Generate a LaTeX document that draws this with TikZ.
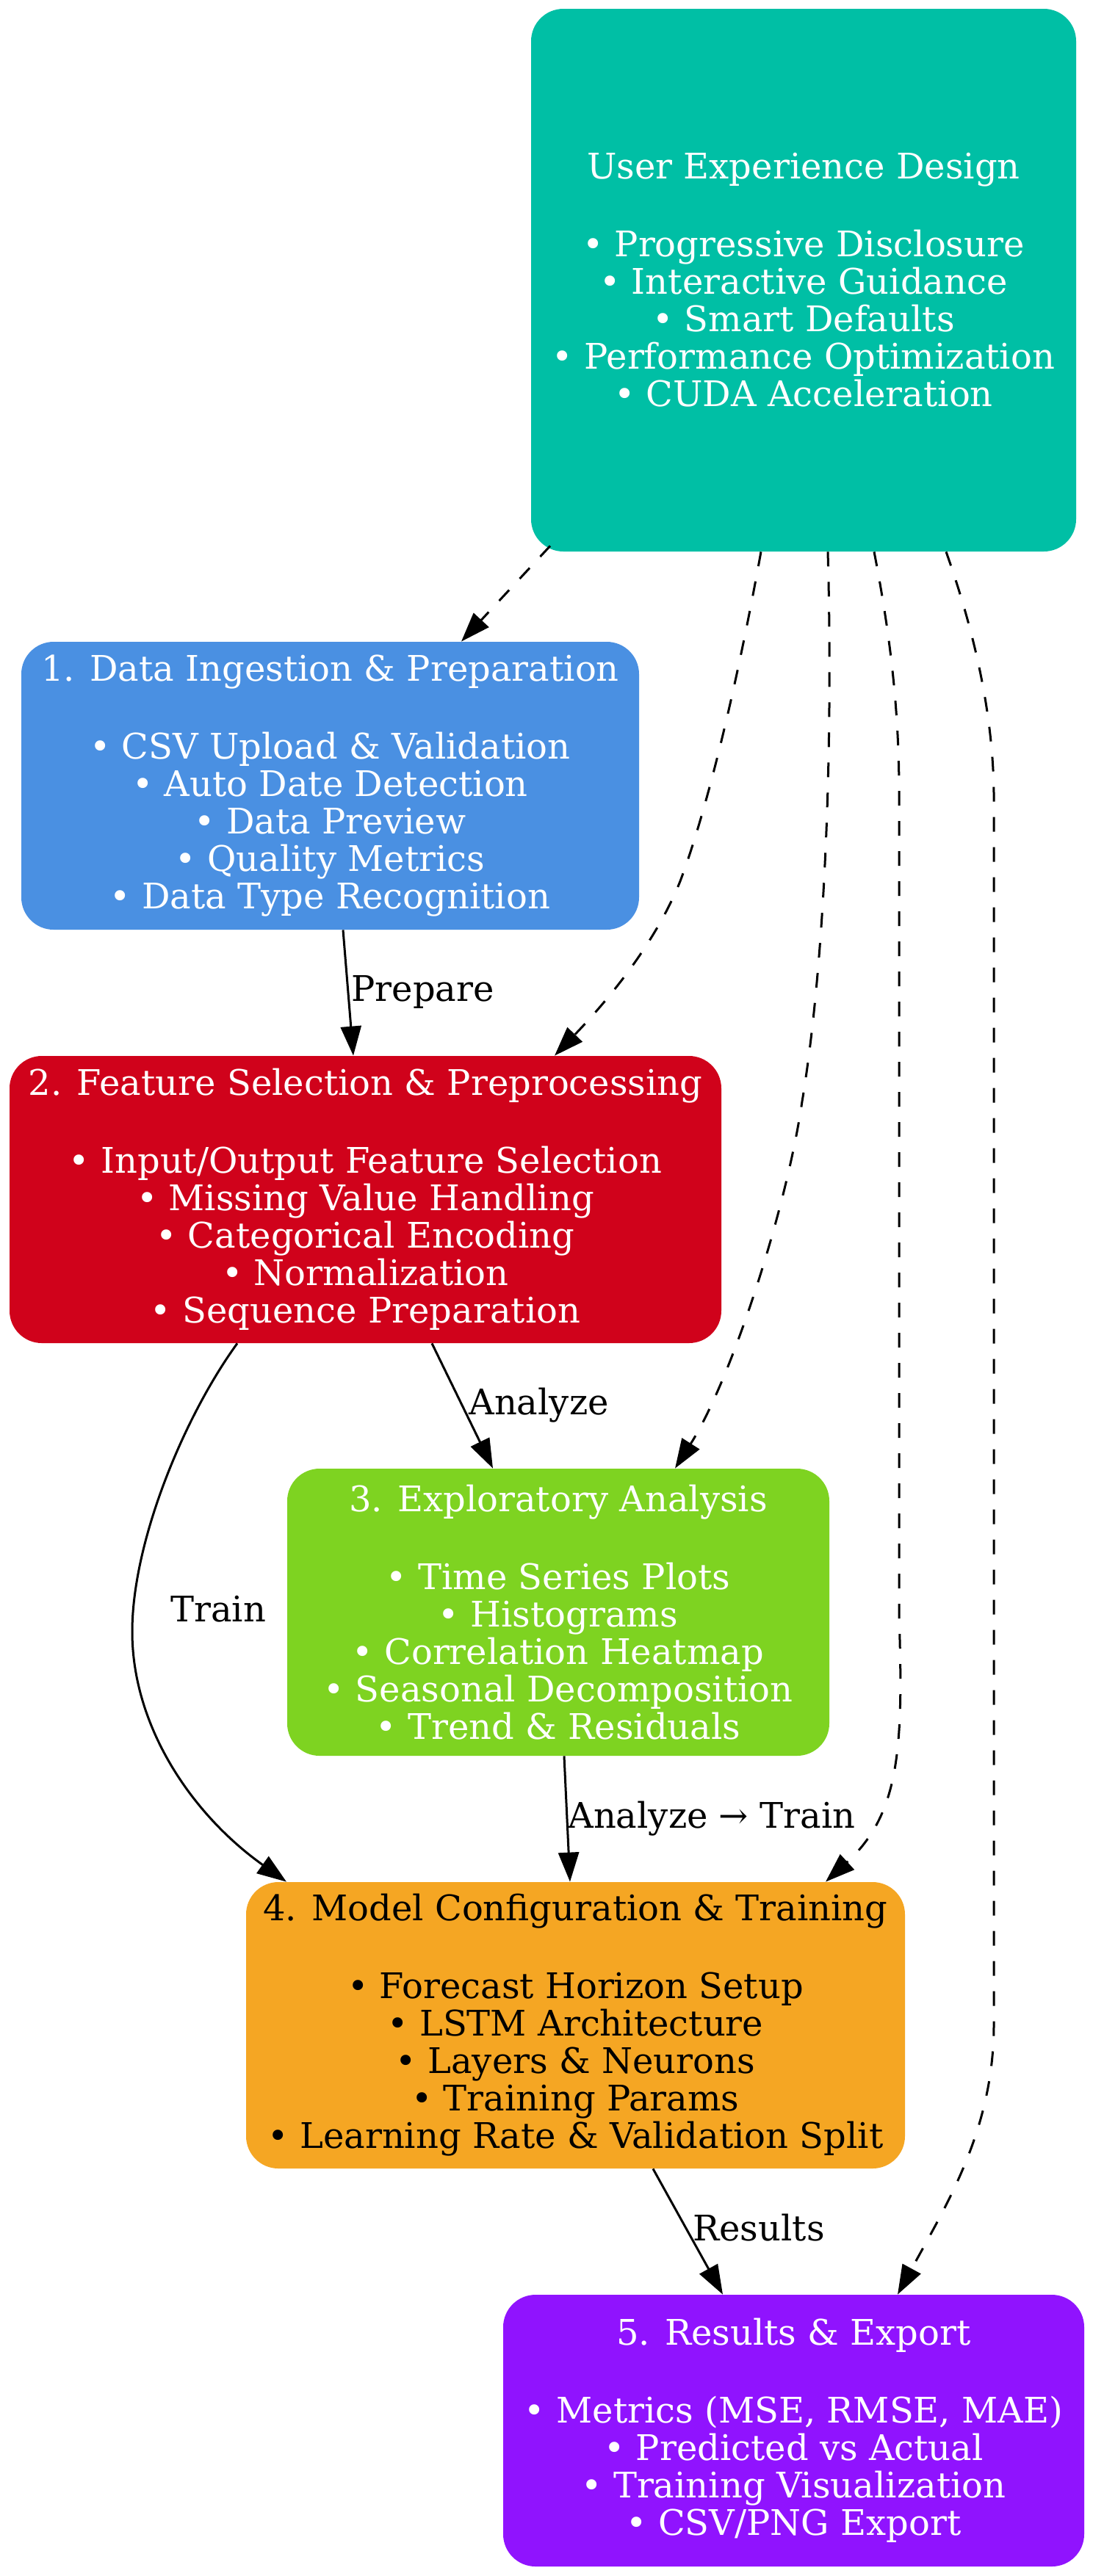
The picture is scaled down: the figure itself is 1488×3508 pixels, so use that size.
\documentclass[tikz,border=0pt]{standalone}
\usepackage{fontspec}
\setmainfont{DejaVu Serif}
\usetikzlibrary{arrows.meta}
\definecolor{uxcol}{HTML}{00BFA5}
\definecolor{bluecol}{HTML}{4A90E2}
\definecolor{redcol}{HTML}{D0021B}
\definecolor{greencol}{HTML}{7ED321}
\definecolor{orangecol}{HTML}{F5A623}
\definecolor{purplecol}{HTML}{9013FE}
\tikzset{
  box/.style={rectangle, rounded corners=22pt, inner sep=0pt, align=center,
    font=\fontsize{24}{25.5}\selectfont, text=white},
  flow/.style={line width=1.5pt, -{Triangle[length=20pt,width=14pt]}},
  dflow/.style={flow, dash pattern=on 10pt off 10.5pt},
  lbl/.style={anchor=base west, inner sep=0pt, font=\fontsize{24}{25.5}\selectfont},
}
\begin{document}
\begin{tikzpicture}[x=0.5pt,y=-0.5pt]
\useasboundingbox (0,0) rectangle (1488,3508);
\fill[white] (0,0) rectangle (1488,3508);

\node[box, fill=uxcol, minimum width=371pt, minimum height=369.5pt] (ux) at (1094,381.5)
 {User Experience Design\\[27.5pt]• Progressive Disclosure\\• Interactive Guidance\\• Smart Defaults\\• Performance Optimization\\• CUDA Acceleration};
\node[box, fill=bluecol, minimum width=420.5pt, minimum height=196pt] (b1) at (449.5,1070)
 {1. Data Ingestion \& Preparation\\[27.5pt]• CSV Upload \& Validation\\• Auto Date Detection\\• Data Preview\\• Quality Metrics\\• Data Type Recognition};
\node[box, fill=redcol, minimum width=484.5pt, minimum height=195.5pt] (b2) at (497.5,1633.5)
 {2. Feature Selection \& Preprocessing\\[27.5pt]• Input/Output Feature Selection\\• Missing Value Handling\\• Categorical Encoding\\• Normalization\\• Sequence Preparation};
\node[box, fill=greencol, minimum width=369pt, minimum height=195.5pt] (b3) at (760,2195.5)
 {3. Exploratory Analysis\\[27.5pt]• Time Series Plots\\• Histograms\\• Correlation Heatmap\\• Seasonal Decomposition\\• Trend \& Residuals};
\node[box, fill=orangecol, text=black, minimum width=448.5pt, minimum height=195pt] (b4) at (783.5,2758)
 {4. Model Configuration \& Training\\[27.5pt]• Forecast Horizon Setup\\• LSTM Architecture\\• Layers \& Neurons\\• Training Params\\• Learning Rate \& Validation Split};
\node[box, fill=purplecol, minimum width=395.5pt, minimum height=185pt] (b5) at (1080.5,3310)
 {5. Results \& Export\\[27.5pt]• Metrics (MSE, RMSE, MAE)\\• Predicted vs Actual\\• Training Visualization\\• CSV/PNG Export};

% solid edges
\draw[flow] ([xshift=8.75pt]b1.south) -- ([xshift=-8.25pt]b2.north);
\draw[flow] ([xshift=45.25pt]b2.south) -- ([xshift=-44.5pt]b3.north);
\draw[flow] ([xshift=4pt]b3.south) -- ([xshift=-3.75pt]b4.north);
\draw[flow] ([xshift=52.75pt]b4.south) -- ([xshift=-48.25pt]b5.north);
\draw[flow] ([xshift=-87.25pt]b2.south) .. controls (250,1930) and (180,2100) .. (180,2222)
  .. controls (180,2350) and (260,2470) .. ([xshift=-196.75pt]b4.north);

% dashed edges
\draw[dflow] ([xshift=-172.5pt,yshift=4pt]ux.south) -- ([xshift=89.25pt]b1.north);
\draw[dflow] ([xshift=-29pt]ux.south) .. controls (1000,950) and (960,1110) .. (926,1200)
  .. controls (890,1290) and (820,1370) .. ([xshift=128.75pt]b2.north);
\draw[dflow] ([xshift=16.5pt]ux.south) .. controls (1134,1000) and (1125,1300) .. (1092,1500)
  .. controls (1070,1650) and (995,1880) .. ([xshift=79.5pt]b3.north);
\draw[dflow] ([xshift=48pt]ux.south) .. controls (1215,880) and (1224,980) .. (1224,1080)
  -- (1224,2200) .. controls (1230,2380) and (1225,2470) .. ([xshift=170.25pt]b4.north);
\draw[dflow] ([xshift=97pt]ux.south) .. controls (1330,870) and (1352,980) .. (1353,1080)
  -- (1353,2760) .. controls (1352,2900) and (1290,3000) .. ([xshift=70.75pt]b5.north);

% labels
\node[lbl] (lprep) at (478,1363) {Prepare};
\node[lbl] (lana) at (638,1926) {Analyze};
\node[lbl] (ltrain) at (232,2208) {Train};
\node[lbl] (lat) at (773,2489) {Analyze → Train};
\node[lbl] (lres) at (943,3051) {Results};
\end{tikzpicture}
\end{document}
